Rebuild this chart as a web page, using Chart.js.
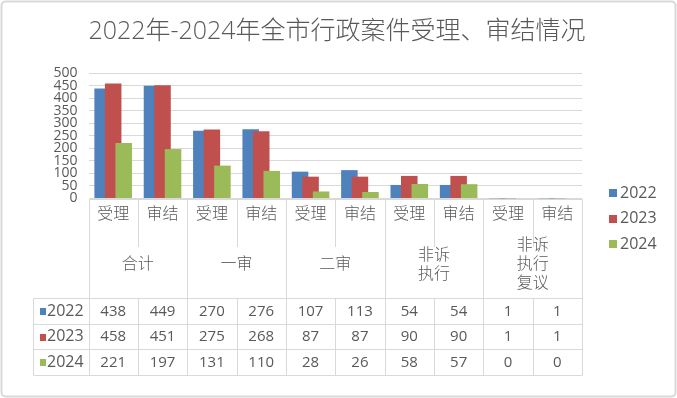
<!DOCTYPE html>
<html>
<head>
<meta charset="utf-8">
<script src="https://cdn.jsdelivr.net/npm/chart.js@4/dist/chart.umd.min.js"></script>
<style>
  html, body { margin: 0; padding: 0; background: #fff; }
  #chart { display: block; }
</style>
</head>
<body>
<canvas id="chart" width="677" height="398"></canvas>
<script>
const title = '2022年-2024年全市行政案件受理、审结情况';
const categories = ['受理', '审结', '受理', '审结', '受理', '审结', '受理', '审结', '受理', '审结'];
const groups = [['合计'], ['一审'], ['二审'], ['非诉', '执行'], ['非诉', '执行', '复议']];
const years = ['2022', '2023', '2024'];
const values2022 = [438, 449, 270, 276, 107, 113, 54, 54, 1, 1];
const values2023 = [458, 451, 275, 268, 87, 87, 90, 90, 1, 1];
const values2024 = [221, 197, 131, 110, 28, 26, 58, 57, 0, 0];
const colours = ['#4F81BD', '#C0504D', '#9BBB59'];

const series = [values2022, values2023, values2024];
const grey = '#595959';
const lineColour = '#d9d9d9';
const latin = '"Open Sans", "Noto Sans CJK SC", sans-serif';
const cjk = '"Noto Sans CJK SC", sans-serif';

// draw the series left to right so the later years sit on top (Excel overlap)
const overlapOrder = {
  id: 'overlapOrder',
  beforeDatasetsDraw(chart) {
    chart.getSortedVisibleDatasetMetas()
      .sort((a, b) => a.index - b.index)
      .forEach(meta => meta.controller.draw());
    return false;
  }
};

function line(ctx, x1, y1, x2, y2) {
  ctx.beginPath();
  ctx.moveTo(x1, y1);
  ctx.lineTo(x2, y2);
  ctx.stroke();
}

const decorations = {
  id: 'decorations',
  afterDraw(chart) {
    const ctx = chart.ctx;
    const area = chart.chartArea;
    const xs = chart.scales.x;
    const n = categories.length;
    const w = (area.right - area.left) / n;
    const bottom = Math.round(area.bottom) + 0.5;
    const tableTop = 298.5;
    const rowH = 25.5;
    const tableBottom = tableTop + rowH * years.length;
    const tableLeft = 33.5;
    const edge = i => Math.round(area.left + i * w) + 0.5;

    ctx.save();

    // title
    ctx.fillStyle = grey;
    ctx.font = '300 25px "Open Sans", "Noto Sans CJK SC", sans-serif';
    ctx.textAlign = 'center';
    ctx.textBaseline = 'middle';
    ctx.fillText(title, 337, 32);

    // category axis lines
    ctx.strokeStyle = lineColour;
    ctx.lineWidth = 1;
    line(ctx, edge(0), bottom, edge(n), bottom);
    for (let i = 0; i <= n; i++) {
      const x = edge(i);
      if (i % 2 === 0) line(ctx, x, bottom, x, tableBottom);
      else line(ctx, x, bottom, x, 247);
    }

    // data table grid
    for (let r = 0; r <= years.length; r++) {
      const y = tableTop + Math.round(r * rowH);
      line(ctx, tableLeft, y, edge(n), y);
    }
    line(ctx, tableLeft, tableTop, tableLeft, tableBottom);
    for (let i = 1; i < n; i += 2) line(ctx, edge(i), tableTop, edge(i), tableBottom);

    // inner labels
    ctx.fillStyle = grey;
    ctx.textAlign = 'center';
    ctx.textBaseline = 'middle';
    ctx.font = '300 16px ' + cjk;
    categories.forEach((c, i) => ctx.fillText(c, xs.getPixelForValue(i), 213));

    // group labels
    groups.forEach((g, k) => {
      const cx = (xs.getPixelForValue(2 * k) + xs.getPixelForValue(2 * k + 1)) / 2;
      const lh = 19;
      const y0 = 263 - (g.length - 1) * lh / 2;
      g.forEach((t, j) => ctx.fillText(t, cx, y0 + j * lh));
    });

    // table values
    ctx.font = '15px ' + latin;
    series.forEach((vals, r) => {
      const cy = tableTop + r * rowH + rowH / 2;
      vals.forEach((v, i) => ctx.fillText(String(v), xs.getPixelForValue(i), cy));
    });

    // table row headers
    ctx.textAlign = 'left';
    ctx.font = '16px ' + latin;
    years.forEach((yr, r) => {
      const cy = tableTop + r * rowH + rowH / 2;
      ctx.fillStyle = colours[r];
      ctx.fillRect(40, Math.round(cy) - 3, 6, 7);
      ctx.fillStyle = grey;
      ctx.fillText(yr, 47, cy);
    });

    // legend
    years.forEach((yr, r) => {
      const cy = 193 + r * 25.5;
      ctx.fillStyle = colours[r];
      ctx.fillRect(609, Math.round(cy) - 4, 8, 8);
      ctx.fillStyle = grey;
      ctx.fillText(yr, 620, cy);
    });

    // outer frame
    ctx.strokeStyle = lineColour;
    ctx.lineWidth = 2;
    ctx.beginPath();
    ctx.roundRect(1.5, 1.5, 674, 395, 4);
    ctx.stroke();

    ctx.restore();
  }
};

new Chart(document.getElementById('chart'), {
  type: 'bar',
  data: {
    labels: categories,
    datasets: years.map((yr, r) => ({
      label: yr,
      data: series[r],
      backgroundColor: colours[r],
      borderWidth: 0,
      categoryPercentage: 0.64,
      barPercentage: 1.57
    }))
  },
  options: {
    responsive: false,
    animation: false,
    layout: { padding: { top: 73, bottom: 199.5, left: 0, right: 95 } },
    plugins: {
      legend: { display: false },
      title: { display: false },
      tooltip: { enabled: false }
    },
    scales: {
      x: { display: false },
      y: {
        min: 0,
        max: 500,
        ticks: {
          stepSize: 50,
          autoSkip: false,
          color: grey,
          padding: 11,
          font: { family: latin, size: 14, lineHeight: 1 }
        },
        grid: { color: lineColour, drawTicks: false },
        border: { display: false },
        afterFit: s => { s.width = 88.5; }
      }
    }
  },
  plugins: [overlapOrder, decorations]
});
</script>
</body>
</html>
